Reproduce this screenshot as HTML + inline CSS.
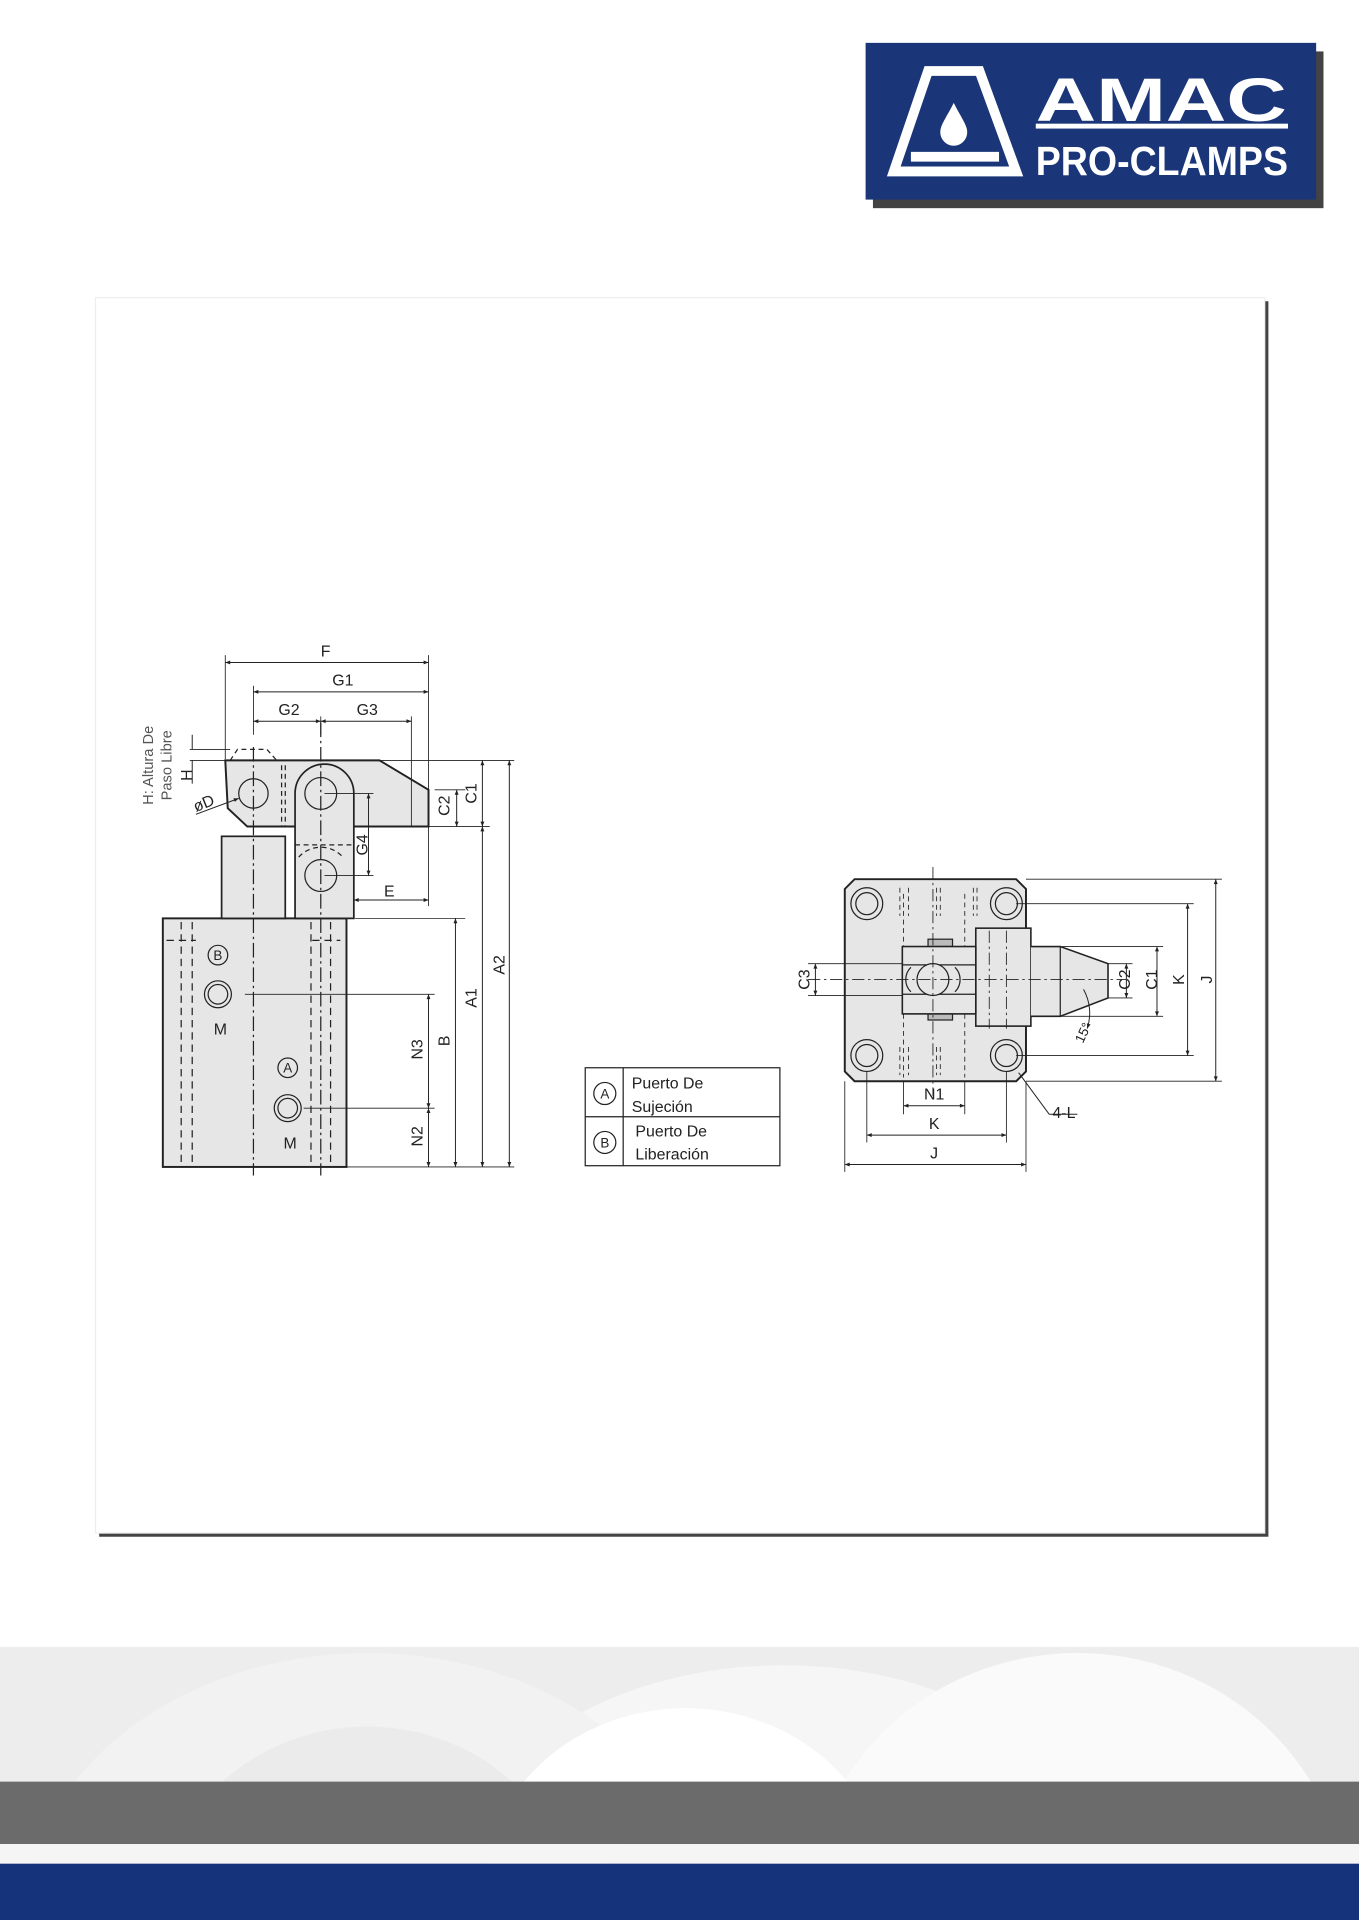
<!DOCTYPE html>
<html><head><meta charset="utf-8"><style>
html,body{margin:0;padding:0;background:#fff;width:1359px;height:1920px;overflow:hidden;}
svg{display:block;}
text{font-family:"Liberation Sans",sans-serif;fill:#222;}
</style></head><body>
<svg width="1359" height="1920" viewBox="0 0 1110 1568" preserveAspectRatio="none" xmlns="http://www.w3.org/2000/svg">
<defs>
<marker id="ar" viewBox="0 0 10 10" refX="10" refY="5" markerWidth="7" markerHeight="5" orient="auto-start-reverse"><path d="M0,1 L10,5 L0,9 z" fill="#222"/></marker>
</defs>
<rect width="1110" height="1568" fill="#fff"/>
<!-- bottom decoration -->
<rect x="0" y="1345" width="1110" height="115" fill="#ededed"/>
<ellipse cx="640" cy="1530" rx="260" ry="170" fill="#f6f6f6"/>
<ellipse cx="880" cy="1560" rx="220" ry="210" fill="#fafafa"/>
<ellipse cx="300" cy="1570" rx="280" ry="220" fill="#f2f2f2"/>
<ellipse cx="300" cy="1570" rx="170" ry="160" fill="#ebebeb"/>
<ellipse cx="560" cy="1545" rx="165" ry="150" fill="#fff"/>
<ellipse cx="560" cy="1560" rx="75" ry="70" fill="#ebebeb"/>
<rect x="0" y="1455" width="1110" height="51" fill="#6b6b6b"/>
<rect x="0" y="1506" width="1110" height="16" fill="#f5f5f5"/>
<rect x="0" y="1522" width="1110" height="46" fill="#15337a"/>
<!-- logo -->
<rect x="713" y="42" width="368" height="128" fill="#222" opacity="0.85"/>
<rect x="707" y="35" width="368" height="128" fill="#1a3578"/>
<path d="M758,58 L800,58 L830,140 L730,140 Z" fill="none" stroke="#fff" stroke-width="8" stroke-linejoin="miter"/>
<path d="M744,128 L816,128" stroke="#fff" stroke-width="8"/>
<path d="M779,84 C773,96 768,102 768,108 A11,11 0 0 0 790,108 C790,102 785,96 779,84 Z" fill="#fff"/>
<text x="846" y="99" font-size="50" font-weight="bold" style="fill:#fff" textLength="205" lengthAdjust="spacingAndGlyphs">AMAC</text>
<rect x="846" y="101" width="206" height="4" fill="#fff"/>
<text x="846" y="143" font-size="33" font-weight="bold" style="fill:#fff" textLength="206" lengthAdjust="spacingAndGlyphs">PRO-CLAMPS</text>
<!-- panel -->
<rect x="81" y="246" width="955" height="1009" fill="#222" opacity="0.85"/>
<rect x="78" y="243" width="955" height="1009" fill="#fff"/>
<rect x="78" y="243" width="955" height="1009" fill="none" stroke="#eee" stroke-width="1"/>

<g stroke="#222" stroke-width="1" fill="none">
<!-- side view -->
<rect x="133" y="750" width="150" height="203" fill="#e6e6e6" stroke-width="1.6"/>
<rect x="181" y="683" width="52" height="67" fill="#e6e6e6" stroke-width="1.4"/>
<path d="M184,621 L310,621 L350,645 L350,675 L202,675 L186,660 Z" fill="#e6e6e6" stroke-width="1.6"/>
<path d="M241,750 L241,648 A24,24 0 0 1 289,648 L289,750 Z" fill="#e6e6e6" stroke-width="1.4"/>
<circle cx="207" cy="648" r="12" fill="#e6e6e6"/>
<circle cx="262" cy="648" r="13" fill="#e6e6e6"/>
<circle cx="262" cy="715" r="13" fill="#e6e6e6"/>
<path d="M188,621 L194,612 L218,612 L226,621" stroke-dasharray="4,3"/>
<path d="M230,625 L230,675 M233,625 L233,675 M241,690 L289,690 M244,700 A24,24 0 0 1 280,700" stroke-dasharray="4,3"/>
<path d="M148,753 L148,953 M157,753 L157,953 M254,753 L254,953 M270,753 L270,953 M136,768 L160,768 M255,768 L278,768" stroke-dasharray="6,4"/>
<path d="M207,610 L207,960 M262,590 L262,960" stroke-dasharray="12,3,2,3"/>
<circle cx="178" cy="812" r="11"/><circle cx="178" cy="812" r="8"/>
<circle cx="235" cy="905" r="11"/><circle cx="235" cy="905" r="8"/>
<circle cx="178" cy="780" r="8"/><circle cx="235" cy="872" r="8"/>
<!-- extension lines -->
<path d="M184,535 L184,620 M207,560 L207,600 M336,585 L336,675 M350,535 L350,740 M262,585 L262,600 M155,612 L188,612 M155,621 L184,621 M310,621 L420,621 M350,675 L400,675 M355,645 L380,645 M290,750 L380,750 M200,812 L355,812 M248,905 L355,905 M283,953 L420,953 M265,648 L305,648 M265,715 L305,715" stroke-width="0.7"/>
<!-- dims -->
<g marker-start="url(#ar)" marker-end="url(#ar)" stroke-width="0.8">
<path d="M184,541 L350,541"/><path d="M207,565 L350,565"/><path d="M207,589 L262,589"/><path d="M262,589 L336,589"/>
<path d="M373,645 L373,675"/><path d="M394,621 L394,675"/><path d="M416,621 L416,953"/><path d="M394,675 L394,953"/>
<path d="M372,750 L372,953"/><path d="M350,812 L350,905"/><path d="M350,905 L350,953"/>
<path d="M301,648 L301,715"/><path d="M289,735 L350,735"/>
</g>
<path d="M157,600 L157,612 M157,621 L157,640" stroke-width="0.8"/>
<path d="M160,665 L195,652" stroke-width="0.8" marker-end="url(#ar)"/>

<!-- top view -->
<path d="M698,718 L830,718 L838,726 L838,875 L830,883 L698,883 L690,875 L690,726 Z" fill="#e6e6e6" stroke-width="1.6"/>
<g fill="#e6e6e6"><circle cx="708" cy="738" r="13"/><circle cx="822" cy="738" r="13"/><circle cx="708" cy="862" r="13"/><circle cx="822" cy="862" r="13"/></g>
<circle cx="708" cy="738" r="9"/><circle cx="822" cy="738" r="9"/><circle cx="708" cy="862" r="9"/><circle cx="822" cy="862" r="9"/>
<path d="M738,730 L738,880 M788,730 L788,880 M735,725 L735,748 M742,725 L742,748 M765,725 L765,748 M768,725 L768,748 M735,855 L735,878 M742,855 L742,878 M765,855 L765,878 M768,855 L768,878 M795,725 L795,748 M798,725 L798,748" stroke-dasharray="4,3" stroke-width="0.7"/>
<rect x="816" y="768" width="12" height="66" fill="#d0d0d0"/>
<rect x="797" y="758" width="45" height="80" fill="#e6e6e6" stroke-width="1.3"/>
<path d="M842,773 L866,773 L905,787 L905,815 L866,830 L842,830" fill="#e6e6e6" stroke-width="1.3"/>
<path d="M866,773 L866,830" />
<rect x="758" y="767" width="20" height="6" fill="#bbb"/><rect x="758" y="827" width="20" height="6" fill="#bbb"/>
<rect x="737" y="773" width="60" height="55" fill="#e6e6e6" stroke-width="1.3"/>
<path d="M737,788 L797,788 L797,812 L737,812"/>
<circle cx="762" cy="800" r="13" fill="#e6e6e6"/>
<path d="M744,790 A14,14 0 0 0 744,810 M780,790 A14,14 0 0 1 780,810"/>
<path d="M660,800 L920,800 M762,708 L762,895 M822,760 L822,840 M808,760 L808,840" stroke-dasharray="10,3,2,3" stroke-width="0.7"/>
<path d="M660,787 L737,787 M660,813 L737,813 M905,787 L925,787 M905,815 L925,815 M866,773 L950,773 M866,830 L950,830 M830,738 L975,738 M830,862 L975,862 M838,718 L998,718 M838,883 L998,883 M738,883 L738,910 M788,883 L788,910 M708,875 L708,933 M822,875 L822,933 M690,883 L690,957 M838,883 L838,957" stroke-width="0.7"/>
<g marker-start="url(#ar)" marker-end="url(#ar)" stroke-width="0.8">
<path d="M666,787 L666,813"/><path d="M920,787 L920,815"/><path d="M945,773 L945,830"/><path d="M970,738 L970,862"/><path d="M993,718 L993,883"/>
<path d="M738,903 L788,903"/><path d="M708,927 L822,927"/><path d="M690,951 L838,951"/>
</g>
<path d="M857,910 L880,910 M857,910 L832,876" stroke-width="0.8"/>
<path d="M885,808 A40,40 0 0 1 888,840" stroke-width="0.8" marker-end="url(#ar)"/>
<!-- legend -->
<rect x="478" y="872" width="159" height="80" stroke-width="1"/>
<path d="M478,912 L637,912 M509,872 L509,952"/>
<circle cx="494" cy="893" r="9"/><circle cx="494" cy="933" r="9"/>
</g>

<g font-size="13">
<text x="266" y="536" text-anchor="middle">F</text>
<text x="280" y="560" text-anchor="middle">G1</text>
<text x="236" y="584" text-anchor="middle">G2</text>
<text x="300" y="584" text-anchor="middle">G3</text>
<text x="318" y="732" text-anchor="middle">E</text>
<text transform="translate(157,633) rotate(-90)" text-anchor="middle">H</text>
<text transform="translate(367,658) rotate(-90)" text-anchor="middle">C2</text>
<text transform="translate(389,648) rotate(-90)" text-anchor="middle">C1</text>
<text transform="translate(412,788) rotate(-90)" text-anchor="middle">A2</text>
<text transform="translate(389,815) rotate(-90)" text-anchor="middle">A1</text>
<text transform="translate(367,850) rotate(-90)" text-anchor="middle">B</text>
<text transform="translate(345,857) rotate(-90)" text-anchor="middle">N3</text>
<text transform="translate(345,928) rotate(-90)" text-anchor="middle">N2</text>
<text transform="translate(300,690) rotate(-90)" text-anchor="middle">G4</text>
<text transform="translate(168,660) rotate(-22)" text-anchor="middle">øD</text>
<text transform="translate(125,625) rotate(-90)" text-anchor="middle" font-size="12" style="fill:#555">H: Altura De</text>
<text transform="translate(140,625) rotate(-90)" text-anchor="middle" font-size="12" style="fill:#555">Paso Libre</text>
<text x="178" y="784" text-anchor="middle" font-size="11">B</text>
<text x="235" y="876" text-anchor="middle" font-size="11">A</text>
<text x="180" y="845" text-anchor="middle">M</text>
<text x="237" y="938" text-anchor="middle">M</text>
<text x="494" y="897" text-anchor="middle" font-size="11">A</text>
<text x="494" y="937" text-anchor="middle" font-size="11">B</text>
<text x="516" y="889">Puerto De</text>
<text x="516" y="908">Sujeción</text>
<text x="519" y="928">Puerto De</text>
<text x="519" y="947">Liberación</text>
<text transform="translate(661,800) rotate(-90)" text-anchor="middle">C3</text>
<text transform="translate(923,800) rotate(-90)" text-anchor="middle">C2</text>
<text transform="translate(945,800) rotate(-90)" text-anchor="middle">C1</text>
<text transform="translate(967,800) rotate(-90)" text-anchor="middle">K</text>
<text transform="translate(990,800) rotate(-90)" text-anchor="middle">J</text>
<text x="763" y="898" text-anchor="middle">N1</text>
<text x="763" y="922" text-anchor="middle">K</text>
<text x="763" y="946" text-anchor="middle">J</text>
<text x="869" y="913" text-anchor="middle">4-L</text>
<text transform="translate(888,845) rotate(-65)" text-anchor="middle" font-size="11">15°</text>
</g>
</svg>
</body></html>
